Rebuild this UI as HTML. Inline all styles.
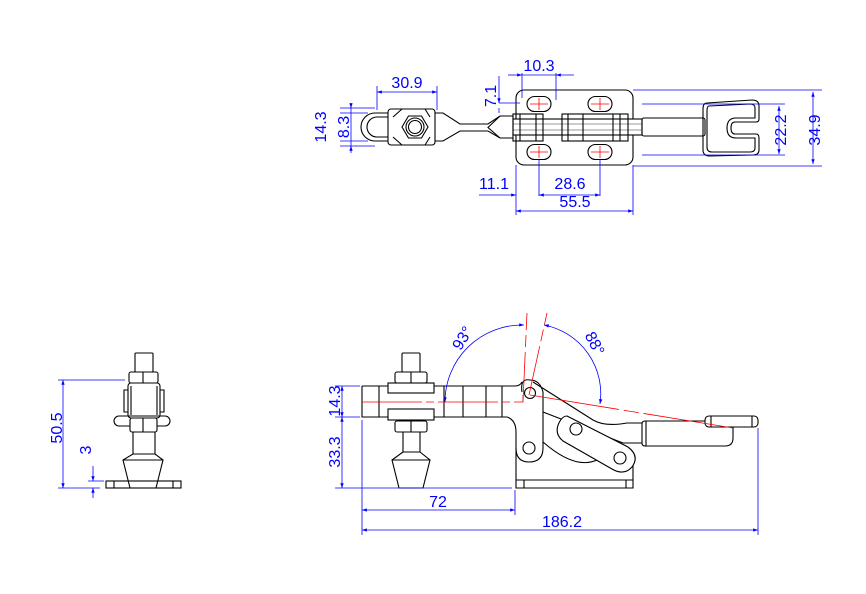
<!DOCTYPE html>
<html><head><meta charset="utf-8"><style>
html,body{margin:0;padding:0;background:#fff;}
svg{display:block;font-family:"Liberation Sans",sans-serif;}
.k{fill:none;stroke:#000;stroke-width:1.1;}
.g{fill:none;stroke:#777;stroke-width:0.8;}
.r{fill:none;stroke:#f00;stroke-width:0.8;}
.b{fill:none;stroke:#00f;stroke-width:0.8;}
.t{fill:#00f;font-size:16px;text-anchor:middle;}
</style></head><body>
<svg width="866" height="594" viewBox="0 0 866 594" xmlns="http://www.w3.org/2000/svg">
<defs>
<marker id="a" viewBox="0 0 10 10" refX="10" refY="5" markerWidth="8" markerHeight="6" orient="auto-start-reverse"><path d="M0,1.5 L10,5 L0,8.5 z" fill="#00f"/></marker>
</defs>

<!-- ===== TOP VIEW ===== -->
<rect class="k" x="516" y="90" width="117" height="75" rx="8"/>
<g class="k">
<rect x="527" y="96.5" width="24" height="15" rx="7.5"/>
<rect x="588" y="96.5" width="24" height="15" rx="7.5"/>
<rect x="527" y="144.5" width="24" height="15" rx="7.5"/>
<rect x="588" y="144.5" width="24" height="15" rx="7.5"/>
</g>
<g class="r">
<path d="M530 104h18M539 98v12M591 104h18M600 98v12M530 152h18M539 146v12M591 152h18M600 146v12"/>
</g>
<rect class="k" x="513" y="119" width="129" height="16" style="fill:#fff"/>
<path class="g" d="M513 124H642M513 130H642"/>
<rect class="k" x="513" y="114" width="30" height="27"/>
<path class="k" d="M520 114V141M536 114V141"/>
<rect class="k" x="562" y="114" width="66" height="27"/>
<path class="k" d="M568 114V141M583 114V141M613 114V141M620 114V141"/>
<rect class="k" x="642" y="118" width="63" height="18" rx="2"/>
<path class="k" d="M707 103 L752 100 Q759 100 759 106 L759 119 Q759 122 756 122 L735 122 Q731 122 731 128 Q731 134 735 134 L756 134 Q759 134 759 138 L759 150 Q759 155 753 155 L710 156 Q703 156 703 150 L703 109 Q703 103 707 103 Z"/>
<path class="k" d="M709 106 L750 104 Q755 104 755 108 L755 118 L736 118 Q727 118 727 128 Q727 138 736 138 L755 138 L755 148 Q755 152 750 152 L712 152 Q707 152 707 147 L707 111 Q707 106 709 106 Z"/>
<path class="k" d="M435 113 L443 113 L460 124 L488 124 L500 116 L513 116 M435 141 L443 141 L460 131 L488 131 L500 138 L513 138"/>
<path class="k" d="M500 116 L488 127.5 L500 138"/>
<path class="k" d="M390 113 L375 113 A14 14 0 0 0 375 141 L390 141"/>
<path class="k" d="M390 117 L377 117 A10 10 0 0 0 377 137 L390 137"/>
<rect class="k" x="388" y="109" width="47" height="36" rx="3" style="fill:#fff"/>
<path class="k" d="M393 117 L402 109 M430 117 L425 109 M393 137 L402 145 M430 137 L425 145"/>
<polygon class="k" points="402,127 408.5,116 421.5,116 428,127 421.5,138 408.5,138"/>
<circle class="k" cx="415" cy="127" r="9"/>
<circle class="k" cx="415" cy="127" r="6.5"/>

<!-- top dims -->
<path class="b" d="M377 110V86M437 110V86M340 108H375M340 146H375M340 113H368M340 141H368"/>
<line class="b" x1="377" y1="92" x2="437" y2="92" marker-start="url(#a)" marker-end="url(#a)"/>
<text class="t" x="407" y="88">30.9</text>
<line class="b" x1="351" y1="103" x2="351" y2="153"/>
<line class="b" x1="351" y1="103" x2="351" y2="108" marker-end="url(#a)"/>
<line class="b" x1="351" y1="151" x2="351" y2="146" marker-end="url(#a)"/>
<text class="t" transform="translate(326,127) rotate(-90)">14.3</text>
<text class="t" transform="translate(349,127) rotate(-90)">8.3</text>
<path class="b" d="M522 98V73M556 100V73M499 103H520"/>
<line class="b" x1="508" y1="75" x2="522" y2="75" marker-end="url(#a)"/>
<line class="b" x1="556" y1="75" x2="574" y2="75" marker-start="url(#a)"/>
<line class="b" x1="522" y1="75" x2="556" y2="75"/>
<text class="t" x="539" y="71">10.3</text>
<line class="b" x1="499" y1="76" x2="499" y2="103" marker-end="url(#a)"/>
<line class="b" x1="499" y1="113" x2="499" y2="108"/>
<text class="t" transform="translate(496,96) rotate(-90)">7.1</text>
<path class="b" d="M516 165V215M633 165V215M539 159V196M600 159V196"/>
<line class="b" x1="479" y1="195" x2="516" y2="195" marker-end="url(#a)"/>
<line class="b" x1="539" y1="195" x2="600" y2="195" marker-start="url(#a)" marker-end="url(#a)"/>
<text class="t" x="494" y="189">11.1</text>
<text class="t" x="570" y="189">28.6</text>
<line class="b" x1="516" y1="211" x2="633" y2="211" marker-start="url(#a)" marker-end="url(#a)"/>
<text class="t" x="575" y="207">55.5</text>
<path class="b" d="M633 90H822M633 166H822M642 104H785M642 155H785"/>
<line class="b" x1="813" y1="92" x2="813" y2="164" marker-start="url(#a)" marker-end="url(#a)"/>
<line class="b" x1="779" y1="106" x2="779" y2="154" marker-start="url(#a)" marker-end="url(#a)"/>
<text class="t" transform="translate(786,130) rotate(-90)">22.2</text>
<text class="t" transform="translate(820,130) rotate(-90)">34.9</text>

<!-- ===== FRONT VIEW ===== -->
<path class="k" d="M362 386 H515 Q520 386 522 382 M362 386 V417 H507 Q516 420 516 432 V488 H633 V466"/>
<path class="k" d="M379 386V417M444 386V417M463 386V417M486 386V417M502 386V417"/>
<path class="k" d="M516 480H633M524 480V488M626 480V488"/>
<rect class="k" x="402" y="353" width="18" height="19" rx="1" style="fill:#fff"/>
<rect class="k" x="395" y="372" width="32" height="11" rx="2" style="fill:#fff"/>
<path class="k" d="M411 372V383"/>
<rect class="k" x="388" y="383" width="46" height="10" style="fill:#fff"/>
<rect class="k" x="388" y="409" width="46" height="11" style="fill:#fff"/>
<rect class="k" x="395" y="421" width="32" height="11" rx="2" style="fill:#fff"/>
<path class="k" d="M411 421V432"/>
<path class="k" d="M403 432V452M420 432V452"/>
<path class="k" d="M403 452 L392 460 L399 488 H423 L430 460 L420 452 Z M392 460H430"/>
<path class="k" d="M522 392 Q520 378 530 380 Q540 380 543 392 V448 Q543 462 529 462 Q516 462 516 448"/>
<circle class="k" cx="530" cy="393" r="5.5"/>
<circle class="k" cx="529" cy="448" r="6"/>
<path class="k" d="M533 382 L593 420 Q605 427 627 423 H642 M543 412 L623 443 H642"/>
<path class="k" d="M543 442 Q575 470 597 460"/>
<path class="k" d="M567 416 L628 447 Q640 456 632 467 Q624 476 612 469 L563 441 Q553 433 560 421 Q563 416 567 416 Z" style="fill:#fff"/>
<circle class="k" cx="576" cy="429" r="6"/>
<circle class="k" cx="620" cy="458" r="6"/>
<path class="k" d="M645 421 H728 Q733 421 733 426 V438 Q733 446 725 446 H645 Q642 446 642 443 V424 Q642 421 645 421 Z M646 421V446"/>
<rect class="k" x="705" y="416" width="53" height="11" rx="4" style="fill:#fff"/>
<path class="k" d="M711 416V427M752 416V427"/>
<path class="r" d="M362 402 H523 V395" stroke-dasharray="60,4,8,4"/>
<path class="r" d="M523 402 L527 313" stroke-dasharray="50,5,12,5"/>
<path class="r" d="M529 395 L547 313" stroke-dasharray="50,5,12,5"/>
<path class="r" d="M530 395 L733 428" stroke-dasharray="90,5,15,5"/>
<path class="b" d="M445 402 A77 77 0 0 1 524 325" marker-start="url(#a)" marker-end="url(#a)"/>
<text class="t" transform="translate(467,341) rotate(-58)">93°</text>
<path class="b" d="M544 325 A70 70 0 0 1 600 404" marker-start="url(#a)" marker-end="url(#a)"/>
<text class="t" transform="translate(590,346) rotate(62)">88°</text>
<path class="b" d="M335 386H360M335 417H360M335 488H512M362 420V535M515 490V515M758 428V535"/>
<line class="b" x1="342" y1="386" x2="342" y2="417" marker-start="url(#a)" marker-end="url(#a)"/>
<line class="b" x1="342" y1="417" x2="342" y2="488" marker-start="url(#a)" marker-end="url(#a)"/>
<text class="t" transform="translate(340,401) rotate(-90)">14.3</text>
<text class="t" transform="translate(340,452) rotate(-90)">33.3</text>
<line class="b" x1="362" y1="510" x2="515" y2="510" marker-start="url(#a)" marker-end="url(#a)"/>
<text class="t" x="438" y="507">72</text>
<line class="b" x1="362" y1="530" x2="758" y2="530" marker-start="url(#a)" marker-end="url(#a)"/>
<text class="t" x="562" y="527">186.2</text>

<!-- ===== SIDE VIEW ===== -->
<rect class="k" x="135" y="353" width="18" height="19" rx="1"/>
<rect class="k" x="129" y="372" width="29" height="11" rx="2"/>
<path class="k" d="M143 372V383"/>
<rect class="k" x="128" y="383" width="32" height="35" rx="3"/>
<path class="k" d="M131 386V415M157 386V415M128 390H124V412H128M160 390H164V412H160"/>
<rect class="k" x="114" y="416" width="56" height="10" rx="5"/>
<rect class="k" x="130" y="418" width="27" height="14" rx="2" style="fill:#fff"/>
<path class="k" d="M143 418V432M133 432V454M155 432V454"/>
<path class="k" d="M133 454 L123 460 L130 488 H156 L163 460 L155 454 Z M123 460H163"/>
<rect class="k" x="106" y="481" width="75" height="7"/>
<path class="k" d="M114 481V488M173 481V488"/>
<path class="b" d="M58 380H125M58 488H100M88 481H104"/>
<line class="b" x1="63" y1="380" x2="63" y2="488" marker-start="url(#a)" marker-end="url(#a)"/>
<text class="t" transform="translate(62,428) rotate(-90)">50.5</text>
<line class="b" x1="93" y1="466" x2="93" y2="481" marker-end="url(#a)"/>
<line class="b" x1="93" y1="498" x2="93" y2="488" marker-end="url(#a)"/>
<text class="t" transform="translate(91,450) rotate(-90)">3</text>
</svg>
</body></html>
